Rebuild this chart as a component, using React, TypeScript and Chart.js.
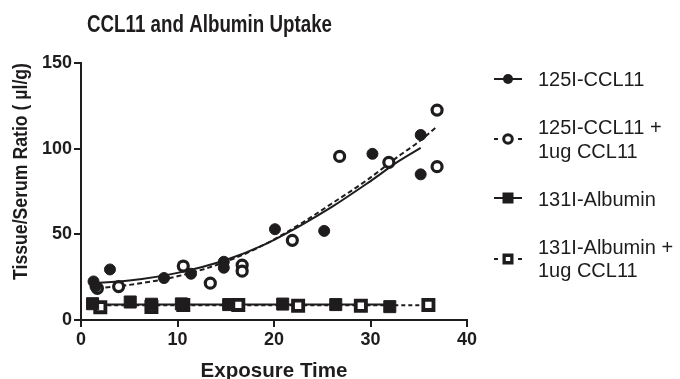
import React, { useEffect, useRef } from 'react';
import { Chart, registerables } from 'chart.js';

Chart.register(...registerables);

const TITLE = 'CCL11 and Albumin Uptake';
const X_TITLE = 'Exposure Time';
const Y_TITLE = 'Tissue/Serum Ratio ( µl/g)';

const seriesNames = ['125I-CCL11', '125I-CCL11 +|1ug CCL11', '131I-Albumin', '131I-Albumin +|1ug CCL11'];

const xTicks = [0, 10, 20, 30, 40];
const yTicks = [0, 50, 100, 150];

// 125I-CCL11 (filled circles)
const cclX = [1.3, 1.5, 3.0, 8.6, 11.4, 14.8, 14.8, 20.1, 25.2, 30.2, 35.2, 35.2];
const cclY = [22.5, 19.5, 29.5, 24.5, 27, 34, 30.5, 53, 52, 97, 108, 85];

// 125I-CCL11 + 1ug CCL11 (open circles)
const cclBlockX = [1.7, 3.9, 10.6, 13.4, 16.7, 16.7, 21.9, 26.8, 31.9, 36.9, 36.9];
const cclBlockY = [18.5, 19.5, 31.5, 21.5, 32, 28.5, 46.5, 95.5, 92, 122.5, 89.5];

// 131I-Albumin (filled squares)
const albX = [1.2, 5.1, 7.3, 10.4, 15.3, 20.9, 26.4, 32.0];
const albY = [9.5, 10.5, 9.2, 9.4, 9.0, 9.3, 9.0, 7.8];

// 131I-Albumin + 1ug CCL11 (open squares)
const albBlockX = [2.0, 7.3, 10.6, 16.3, 22.5, 29.0, 36.0];
const albBlockY = [7.5, 7.6, 8.8, 8.8, 8.3, 8.3, 8.8];

// fitted curves
const fitCclX = [1.0, 5, 10, 15, 19, 22.7, 26, 29.6, 33, 35.2];
const fitCclY = [21.5, 23, 27.5, 35, 44, 55, 66, 79.5, 93, 100.5];
const fitCclBlockX = [1.7, 5, 10, 15, 19, 23, 26, 29.6, 33, 35, 36.9];
const fitCclBlockY = [18.5, 20.5, 25.5, 34, 44, 57, 68, 81.5, 96, 104, 113];
const fitAlbX = [1.0, 32.0];
const fitAlbY = [9.0, 9.0];
const fitAlbBlockX = [2.0, 36.0];
const fitAlbBlockY = [8.6, 8.6];

const INK = '#1f1c1d';
const FONT = "'Liberation Sans', Arial, Helvetica, sans-serif";

const pts = (xs: number[], ys: number[]) => xs.map((x, i) => ({ x, y: ys[i] }));

function drawMarker(ctx: CanvasRenderingContext2D, kind: string, x: number, y: number) {
  ctx.save();
  ctx.fillStyle = INK;
  ctx.strokeStyle = INK;
  if (kind === 'circle') {
    ctx.beginPath();
    ctx.arc(x, y, 5, 0, Math.PI * 2);
    ctx.fill();
  } else if (kind === 'ocircle') {
    ctx.beginPath();
    ctx.arc(x, y, 4.3, 0, Math.PI * 2);
    ctx.fillStyle = '#fff';
    ctx.fill();
    ctx.lineWidth = 3;
    ctx.stroke();
  } else if (kind === 'square') {
    ctx.fillRect(x - 5.5, y - 5.5, 11, 11);
  } else {
    ctx.fillRect(x - 5.5, y - 5.5, 11, 11);
    ctx.fillStyle = '#fff';
    ctx.fillRect(x - 2.2, y - 2, 4.4, 4);
  }
  ctx.restore();
}

const textPlugin = {
  id: 'customText',
  afterDraw(chart: any) {
    const ctx: CanvasRenderingContext2D = chart.ctx;
    const area = chart.chartArea;
    ctx.save();
    ctx.fillStyle = INK;
    ctx.textBaseline = 'alphabetic';

    // Title (slightly condensed bold)
    ctx.font = `bold 23px ${FONT}`;
    let w = ctx.measureText(TITLE).width;
    ctx.save();
    ctx.translate(87, 32);
    ctx.scale(245 / w, 1);
    ctx.textAlign = 'left';
    ctx.fillText(TITLE, 0, 0);
    ctx.restore();

    // X axis title
    ctx.font = `bold 21px ${FONT}`;
    w = ctx.measureText(X_TITLE).width;
    ctx.save();
    ctx.translate((area.left + area.right) / 2, 377);
    ctx.scale(147 / w, 1);
    ctx.textAlign = 'center';
    ctx.fillText(X_TITLE, 0, 0);
    ctx.restore();

    // Y axis title
    ctx.font = `bold 19.5px ${FONT}`;
    w = ctx.measureText(Y_TITLE).width;
    ctx.save();
    ctx.translate(27, 280);
    ctx.rotate(-Math.PI / 2);
    ctx.scale(217 / w, 1);
    ctx.textAlign = 'left';
    ctx.fillText(Y_TITLE, 0, 0);
    ctx.restore();

    // Legend
    const kinds = ['circle', 'ocircle', 'square', 'osquare'];
    const dashed = [false, true, false, true];
    const markerY = [79, 139, 198, 259];
    const baselines = [[86], [134, 158], [206], [254, 277]];
    ctx.font = `20px ${FONT}`;
    ctx.textAlign = 'left';
    seriesNames.forEach((name, i) => {
      const my = markerY[i];
      ctx.save();
      ctx.strokeStyle = INK;
      ctx.lineWidth = 2;
      if (dashed[i]) {
        ctx.beginPath();
        ctx.moveTo(494, my); ctx.lineTo(498, my);
        ctx.moveTo(518, my); ctx.lineTo(522, my);
        ctx.stroke();
      } else {
        ctx.beginPath();
        ctx.moveTo(494, my); ctx.lineTo(522, my);
        ctx.stroke();
      }
      ctx.restore();
      drawMarker(ctx, kinds[i], 508, my);
      const lines = name.split('|');
      lines.forEach((ln, j) => {
        ctx.fillStyle = INK;
        ctx.fillText(ln, 538, baselines[i][j]);
      });
    });
    ctx.restore();
  },
};

export default function App() {
  const ref = useRef<HTMLCanvasElement | null>(null);

  useEffect(() => {
    document.body.style.margin = '0';
    const canvas = ref.current;
    if (!canvas) return;

    const tickFont = { family: FONT, size: 18, weight: 'bold' as const };

    const fitLine = (xs: number[], ys: number[], dash: number[]) => ({
      type: 'line' as const,
      data: pts(xs, ys),
      showLine: true,
      borderColor: INK,
      backgroundColor: INK,
      borderWidth: 2,
      borderDash: dash,
      pointRadius: 0,
      fill: false,
      cubicInterpolationMode: 'monotone' as const,
      order: 10,
    });

    const chart = new Chart(canvas, {
      type: 'scatter',
      data: {
        datasets: [
          {
            label: '125I-CCL11',
            data: pts(cclX, cclY),
            pointStyle: 'circle',
            pointRadius: 5.5,
            backgroundColor: INK,
            borderColor: INK,
            borderWidth: 1,
            order: 1,
          },
          {
            label: '125I-CCL11 + 1ug CCL11',
            data: pts(cclBlockX, cclBlockY),
            pointStyle: 'circle',
            pointRadius: 5,
            backgroundColor: '#fff',
            borderColor: INK,
            borderWidth: 3.2,
            order: 2,
          },
          {
            label: '131I-Albumin',
            data: pts(albX, albY),
            pointStyle: 'rect',
            pointRadius: 8.5,
            backgroundColor: INK,
            borderColor: INK,
            borderWidth: 1,
            order: 1,
          },
          {
            label: '131I-Albumin + 1ug CCL11',
            data: pts(albBlockX, albBlockY),
            pointStyle: 'rect',
            pointRadius: 7.2,
            backgroundColor: '#fff',
            borderColor: INK,
            borderWidth: 3.8,
            order: 2,
          },
          fitLine(fitCclX, fitCclY, []) as any,
          fitLine(fitCclBlockX, fitCclBlockY, [5, 3]) as any,
          fitLine(fitAlbX, fitAlbY, []) as any,
          fitLine(fitAlbBlockX, fitAlbBlockY, [4, 3]) as any,
        ],
      },
      options: {
        responsive: false,
        animation: false,
        layout: { padding: { left: 0, right: 213, top: 63, bottom: 0 } },
        plugins: {
          legend: { display: false },
          tooltip: { enabled: false },
          title: { display: false },
        },
        scales: {
          x: {
            type: 'linear',
            min: xTicks[0],
            max: xTicks[xTicks.length - 1],
            afterBuildTicks: (s: any) => { s.ticks = xTicks.map((v) => ({ value: v })); },
            ticks: { font: tickFont, color: INK, padding: 2, maxRotation: 0 },
            grid: { drawOnChartArea: false, drawTicks: true, tickLength: 7, color: INK, lineWidth: 2 },
            border: { color: INK, width: 2 },
            afterFit: (s: any) => { s.height = 59; },
          },
          y: {
            type: 'linear',
            min: yTicks[0],
            max: yTicks[yTicks.length - 1],
            afterBuildTicks: (s: any) => { s.ticks = yTicks.map((v) => ({ value: v })); },
            ticks: { font: tickFont, color: INK, padding: 2 },
            grid: { drawOnChartArea: false, drawTicks: true, tickLength: 7, color: INK, lineWidth: 2 },
            border: { color: INK, width: 2 },
            afterFit: (s: any) => { s.width = 81; },
          },
        },
      },
      plugins: [textPlugin],
    });

    return () => chart.destroy();
  }, []);

  return (
    <div style={{ width: 680, height: 379, background: '#fff' }}>
      <canvas ref={ref} width={680} height={379} style={{ display: 'block' }} />
    </div>
  );
}
